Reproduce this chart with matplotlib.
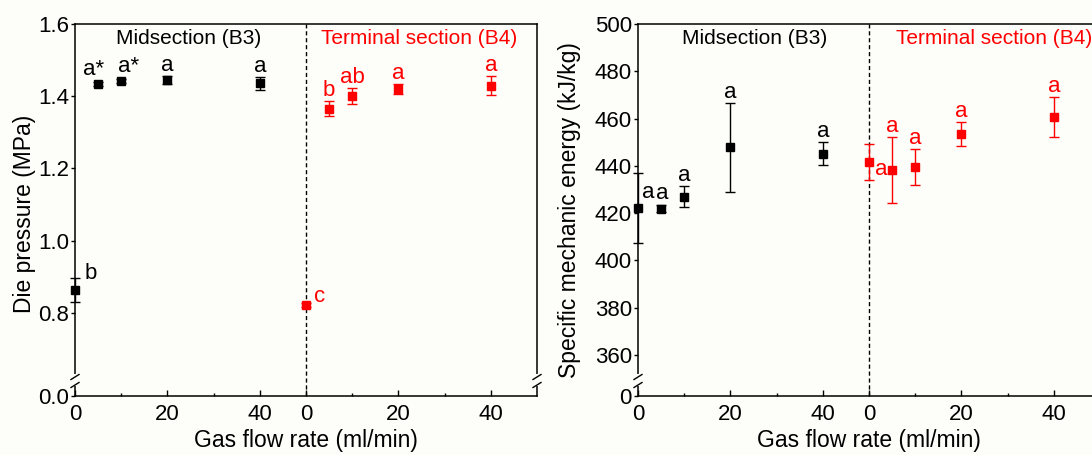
import matplotlib
matplotlib.use("Agg")
import matplotlib.pyplot as plt
import numpy as np

plt.rcParams['font.family'] = ['Liberation Sans', 'DejaVu Sans']

# gas flow rates (ml/min), same for both sections
flow = [0, 5, 10, 20, 40]
b4_shift = 50  # B4 section is drawn to the right of B3 on the same axis

# die pressure (MPa)
dp_b3 = [0.863, 1.434, 1.443, 1.445, 1.436]
dp_b3_err = [0.033, 0.006, 0.006, 0.010, 0.018]
dp_b3_lab = ['b', 'a*', 'a*', 'a', 'a']
dp_b4 = [0.822, 1.365, 1.401, 1.419, 1.429]
dp_b4_err = [0.005, 0.021, 0.022, 0.014, 0.026]
dp_b4_lab = ['c', 'b', 'ab', 'a', 'a']

# specific mechanic energy (kJ/kg)
sme_b3 = [422.2, 421.8, 427.0, 447.8, 445.1]
sme_b3_err = [15.0, 1.5, 4.3, 18.7, 4.8]
sme_b3_lab = ['a', 'a', 'a', 'a', 'a']
sme_b4 = [441.6, 438.3, 439.7, 453.6, 460.6]
sme_b4_err = [7.6, 13.8, 7.6, 5.0, 8.4]
sme_b4_lab = ['a', 'a', 'a', 'a', 'a']

xtick_pos = [0, 20, 40, 50, 70, 90]
xtick_lab = ['0', '20', '40', '0', '20', '40']

BG = '#fdfdf9'
RED = '#ff0000'


def draw_series(ax, x, y, err, labs, color, offsets):
    ax.errorbar(x, y, yerr=err, fmt='s', color=color, ms=5.5, capsize=3.5,
                elinewidth=1, capthick=1, clip_on=False, zorder=5)
    for i in range(len(x)):
        mode, dx, dy = offsets[i]
        if mode == 'top':
            ax.annotate(labs[i], (x[i], y[i] + err[i]), xytext=(dx, dy),
                        textcoords='offset points', ha='center', va='bottom',
                        color=color, fontsize=16)
        else:
            ax.annotate(labs[i], (x[i], y[i]), xytext=(dx, dy),
                        textcoords='offset points', ha='left', va='center',
                        color=color, fontsize=16)


def axis_break(ax, xf):
    # white gap in the spine plus two slashes
    w, h = 462.0, 372.0
    ax.plot([xf, xf], [10 / h, 22 / h], color=BG, lw=3, transform=ax.transAxes,
            clip_on=False, zorder=10, solid_capstyle='butt')
    for yc in [19 / h, 11 / h]:
        ax.plot([xf - 4 / w, xf + 4 / w], [yc - 2.5 / h, yc + 2.5 / h], color='k',
                lw=1, transform=ax.transAxes, clip_on=False, zorder=11)


def style_axes(ax):
    ax.set_facecolor(BG)
    for s in ax.spines.values():
        s.set_linewidth(1.1)
    ax.set_xlim(0, 100)
    ax.set_xticks(xtick_pos)
    ax.set_xticklabels(xtick_lab)
    ax.set_xticks([10, 30, 60, 80], minor=True)
    ax.tick_params(axis='x', which='major', direction='in', length=4, width=1,
                   pad=6, labelsize=16)
    ax.tick_params(axis='x', which='minor', direction='in', length=2, width=1)
    ax.tick_params(axis='y', which='major', direction='out', length=3, width=1,
                   pad=1.5, labelsize=16)
    ax.axvline(b4_shift, color='k', lw=1, ls=(0, (3, 2)), zorder=1)
    ax.set_xlabel('Gas flow rate (ml/min)', fontsize=16.5, labelpad=3)


fig = plt.figure(figsize=(10.92, 4.55), dpi=100, facecolor=BG)
ax1 = fig.add_axes([75 / 1092, 59 / 455, 462 / 1092, 372 / 455])
ax2 = fig.add_axes([638 / 1092, 59 / 455, 462 / 1092, 372 / 455])

x_b3 = np.array(flow)
x_b4 = np.array(flow) + b4_shift

TOP = ('top', 0, 0)

# left panel: die pressure
style_axes(ax1)
ax1.set_ylim(0.57, 1.6)
ax1.set_yticks([0.57, 0.8, 1.0, 1.2, 1.4, 1.6])
ax1.set_yticklabels(['0.0', '0.8', '1.0', '1.2', '1.4', '1.6'])
draw_series(ax1, x_b3, dp_b3, dp_b3_err, dp_b3_lab, 'k',
            [('side', 7, 12), ('top', -3, 1), ('top', 5, 1), TOP, TOP])
draw_series(ax1, x_b4, dp_b4, dp_b4_err, dp_b4_lab, RED,
            [('side', 6, 6), TOP, TOP, TOP, TOP])
ax1.set_ylabel('Die pressure (MPa)', fontsize=16.5)
ax1.yaxis.set_label_coords(-0.084, 0.49)
ax1.text(24.5, 0.96, 'Midsection (B3)', transform=ax1.get_xaxis_transform(),
         ha='center', va='center', fontsize=15)
ax1.text(74.5, 0.96, 'Terminal section (B4)', transform=ax1.get_xaxis_transform(),
         ha='center', va='center', fontsize=15, color=RED)
axis_break(ax1, 0.0)
axis_break(ax1, 1.0)

# right panel: specific mechanic energy
style_axes(ax2)
ax2.set_ylim(342.7, 500)
ax2.set_yticks([342.7, 360, 380, 400, 420, 440, 460, 480, 500])
ax2.set_yticklabels(['0', '360', '380', '400', '420', '440', '460', '480', '500'])
draw_series(ax2, x_b3, sme_b3, sme_b3_err, sme_b3_lab, 'k',
            [('side', 3, 11.5), ('top', 1, 1), TOP, TOP, TOP])
draw_series(ax2, x_b4, sme_b4, sme_b4_err, sme_b4_lab, RED,
            [('side', 4.5, -5), TOP, TOP, TOP, TOP])
ax2.set_ylabel('Specific mechanic energy (kJ/kg)', fontsize=16.5)
ax2.yaxis.set_label_coords(-0.123, 0.5)
ax2.text(25.3, 0.96, 'Midsection (B3)', transform=ax2.get_xaxis_transform(),
         ha='center', va='center', fontsize=15)
ax2.text(77, 0.96, 'Terminal section (B4)', transform=ax2.get_xaxis_transform(),
         ha='center', va='center', fontsize=15, color=RED)
axis_break(ax2, 0.0)

fig.savefig('out.png', dpi=100, facecolor=BG)
